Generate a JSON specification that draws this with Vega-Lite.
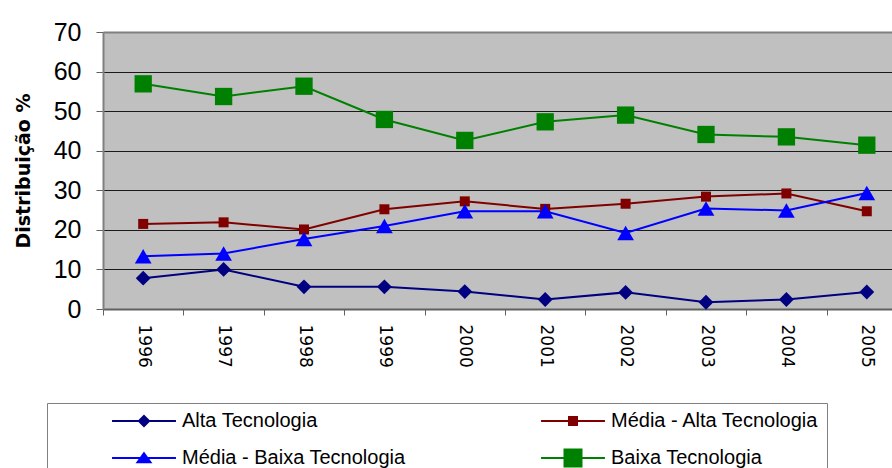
{
  "$schema": "https://vega.github.io/schema/vega-lite/v6.json",
  "width": 789,
  "height": 277,
  "autosize": {"type": "none"},
  "padding": {"left": 103, "top": 32, "right": 0, "bottom": 159},
  "background": "white",
  "config": {
    "font": "Liberation Sans",
    "view": {"fill": "#C0C0C0", "stroke": null},
    "legend": {"symbolSize": 289}
  },
  "data": {
    "values": [
      {"ano": "1996", "serie": "Alta Tecnologia", "valor": 7.8},
      {"ano": "1997", "serie": "Alta Tecnologia", "valor": 10.0},
      {"ano": "1998", "serie": "Alta Tecnologia", "valor": 5.6},
      {"ano": "1999", "serie": "Alta Tecnologia", "valor": 5.6},
      {"ano": "2000", "serie": "Alta Tecnologia", "valor": 4.4},
      {"ano": "2001", "serie": "Alta Tecnologia", "valor": 2.4},
      {"ano": "2002", "serie": "Alta Tecnologia", "valor": 4.2},
      {"ano": "2003", "serie": "Alta Tecnologia", "valor": 1.7},
      {"ano": "2004", "serie": "Alta Tecnologia", "valor": 2.4},
      {"ano": "2005", "serie": "Alta Tecnologia", "valor": 4.3},
      {"ano": "1996", "serie": "Média - Alta Tecnologia", "valor": 21.5},
      {"ano": "1997", "serie": "Média - Alta Tecnologia", "valor": 21.9},
      {"ano": "1998", "serie": "Média - Alta Tecnologia", "valor": 20.1},
      {"ano": "1999", "serie": "Média - Alta Tecnologia", "valor": 25.2},
      {"ano": "2000", "serie": "Média - Alta Tecnologia", "valor": 27.2},
      {"ano": "2001", "serie": "Média - Alta Tecnologia", "valor": 25.3},
      {"ano": "2002", "serie": "Média - Alta Tecnologia", "valor": 26.6},
      {"ano": "2003", "serie": "Média - Alta Tecnologia", "valor": 28.4},
      {"ano": "2004", "serie": "Média - Alta Tecnologia", "valor": 29.2},
      {"ano": "2005", "serie": "Média - Alta Tecnologia", "valor": 24.7},
      {"ano": "1996", "serie": "Média - Baixa Tecnologia", "valor": 13.3},
      {"ano": "1997", "serie": "Média - Baixa Tecnologia", "valor": 14.0},
      {"ano": "1998", "serie": "Média - Baixa Tecnologia", "valor": 17.7},
      {"ano": "1999", "serie": "Média - Baixa Tecnologia", "valor": 21.0},
      {"ano": "2000", "serie": "Média - Baixa Tecnologia", "valor": 24.7},
      {"ano": "2001", "serie": "Média - Baixa Tecnologia", "valor": 24.7},
      {"ano": "2002", "serie": "Média - Baixa Tecnologia", "valor": 19.2},
      {"ano": "2003", "serie": "Média - Baixa Tecnologia", "valor": 25.4},
      {"ano": "2004", "serie": "Média - Baixa Tecnologia", "valor": 24.9},
      {"ano": "2005", "serie": "Média - Baixa Tecnologia", "valor": 29.3},
      {"ano": "1996", "serie": "Baixa Tecnologia", "valor": 56.9},
      {"ano": "1997", "serie": "Baixa Tecnologia", "valor": 53.7},
      {"ano": "1998", "serie": "Baixa Tecnologia", "valor": 56.3},
      {"ano": "1999", "serie": "Baixa Tecnologia", "valor": 47.9},
      {"ano": "2000", "serie": "Baixa Tecnologia", "valor": 42.6},
      {"ano": "2001", "serie": "Baixa Tecnologia", "valor": 47.3},
      {"ano": "2002", "serie": "Baixa Tecnologia", "valor": 49.0},
      {"ano": "2003", "serie": "Baixa Tecnologia", "valor": 44.1},
      {"ano": "2004", "serie": "Baixa Tecnologia", "valor": 43.5},
      {"ano": "2005", "serie": "Baixa Tecnologia", "valor": 41.4}
    ]
  },
  "encoding": {
    "x": {
      "field": "ano",
      "type": "ordinal",
      "scale": {"type": "band", "paddingInner": 0, "paddingOuter": 0, "range": [0, 804]},
      "axis": {
        "title": null,
        "labelAngle": 90,
        "labelAlign": "left",
        "labelBaseline": "middle",
        "labelFont": "DejaVu Sans",
        "labelFontSize": 17,
        "labelColor": "black",
        "labelPadding": 9,
        "tickBand": "extent",
        "tickSize": 6,
        "tickColor": "#606060",
        "domainColor": "#606060",
        "domainWidth": 2,
        "grid": false
      }
    },
    "y": {
      "field": "valor",
      "type": "quantitative",
      "scale": {"domain": [0, 70], "nice": false},
      "axis": {
        "title": "Distribuição %",
        "titleFont": "DejaVu Sans",
        "titleFontSize": 19,
        "titleFontWeight": "bold",
        "titleColor": "black",
        "titlePadding": 20,
        "values": [0, 10, 20, 30, 40, 50, 60, 70],
        "labelFont": "Liberation Sans",
        "labelFontSize": 25,
        "labelColor": "black",
        "labelPadding": 15,
        "tickSize": 7,
        "tickColor": "#606060",
        "domainColor": "#808080",
        "domainWidth": 2,
        "grid": true,
        "gridColor": {"condition": {"test": "datum.value === 70", "value": "#808080"}, "value": "#1a1a1a"},
        "gridWidth": {"condition": {"test": "datum.value === 70", "value": 2}, "value": 1},
        "gridOpacity": 1
      }
    },
    "color": {
      "field": "serie",
      "type": "nominal",
      "scale": {
        "domain": ["Alta Tecnologia", "Média - Alta Tecnologia", "Média - Baixa Tecnologia", "Baixa Tecnologia"],
        "range": ["#000080", "#800000", "#0000FF", "#008000"]
      },
      "legend": {
        "orient": "none",
        "legendX": -56,
        "legendY": 371,
        "title": " ",
        "titleOrient": "left",
        "titleFontSize": 10,
        "titlePadding": 79,
        "columns": 2,
        "direction": "horizontal",
        "padding": 8,
        "strokeColor": "#808080",
        "fillColor": "white",
        "labelFont": "Liberation Sans",
        "labelFontSize": 20,
        "labelColor": "black",
        "labelOffset": 28,
        "labelLimit": 400,
        "columnPadding": 131,
        "rowPadding": 14,
        "symbolStrokeWidth": 2,
        "encode": {
          "symbols": {
            "update": {
              "shape": {"signal": "datum.value === 'Alta Tecnologia' ? 'M-3.76,0H3.76M0,-0.6L0.6,0L0,0.6L-0.6,0Z' : datum.value === 'Média - Alta Tecnologia' ? 'M-3.76,0H3.76M-0.47,-0.47H0.47V0.47H-0.47Z' : datum.value === 'Média - Baixa Tecnologia' ? 'M-3.76,0H3.76M0,-0.55L0.76,0.5H-0.76Z' : 'M-3.76,0H3.76M-1,-1H1V1H-1Z'"},
              "fill": {"signal": "scale('color', datum.value)"},
              "stroke": {"signal": "scale('color', datum.value)"},
              "strokeWidth": {"value": 2},
              "opacity": {"value": 1}
            }
          }
        }
      }
    }
  },
  "layer": [
    {"mark": {"type": "line", "strokeWidth": 2}},
    {
      "mark": {"type": "point", "filled": true, "opacity": 1},
      "encoding": {
        "shape": {
          "condition": [
            {"test": "datum.serie === 'Alta Tecnologia'", "value": "diamond"},
            {"test": "datum.serie === 'Média - Baixa Tecnologia'", "value": "triangle-up"}
          ],
          "value": "square"
        },
        "size": {
          "condition": [
            {"test": "datum.serie === 'Alta Tecnologia'", "value": 220},
            {"test": "datum.serie === 'Média - Alta Tecnologia'", "value": 100},
            {"test": "datum.serie === 'Média - Baixa Tecnologia'", "value": 280}
          ],
          "value": 300
        }
      }
    }
  ]
}
